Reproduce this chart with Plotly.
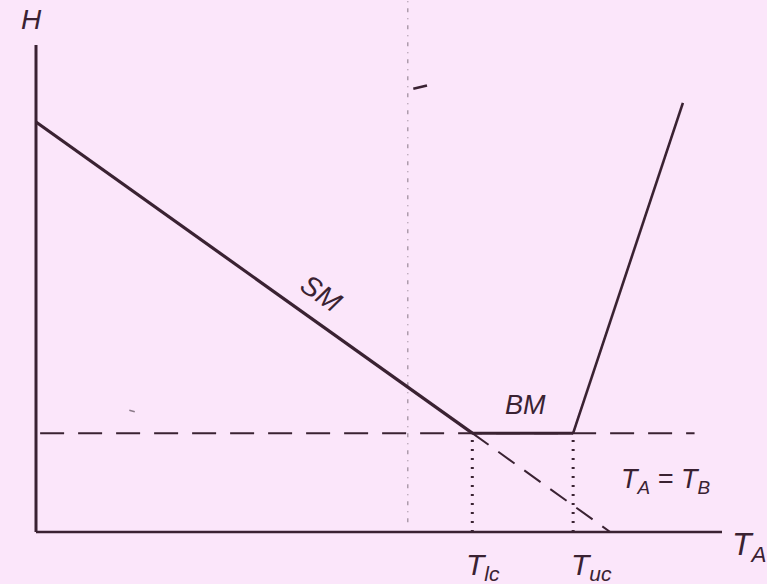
import plotly.graph_objects as go

# ---- data (abstract units: T_A horizontal, H vertical) ----
T_LC = 6.36          # lower critical temperature
T_UC = 7.83          # upper critical temperature
H_BM = 2.03          # enthalpy level of the BM plateau

axis_T = [0, 10]
axis_H = [0, 10]

sm_T = [0, T_LC]
sm_H = [8.42, H_BM]

bm_T = [T_LC, T_UC]
bm_H = [H_BM, H_BM]

rise_T = [T_UC, 9.43]
rise_H = [H_BM, 8.81]

ext_T = [T_LC, 8.37]
ext_H = [H_BM, 0]

level_T = [0.06, 9.6]
level_H = [H_BM, H_BM]

guide_T = [5.42, 5.42]
guide_H = [0.2, 10.92]

# small stray marks of the original print
mark1_T, mark1_H = [5.50, 5.70], [9.10, 9.17]
mark2_T, mark2_H = [1.36, 1.44], [2.50, 2.47]

# ---- styling / layout ----
W, H = 767, 584
L, B = 36, 52
PX_X, PX_Y = 68.6, 48.7
xr = [-L / PX_X, (W - L) / PX_X]
yr = [-B / PX_Y, (H - B) / PX_Y]

INK = "#3a2232"
BG = "#fbe6fa"
FONT = "Liberation Sans Narrow, Liberation Sans, sans-serif"

fig = go.Figure()

def line(x, y, width=3, dash="solid", color=INK):
    fig.add_trace(go.Scatter(x=x, y=y, mode="lines",
                             line=dict(color=color, width=width, dash=dash),
                             hoverinfo="skip", showlegend=False))

# faint vertical dash-dot guide
line(guide_T, guide_H, width=1.2, dash="4px,6px,1px,6px", color="#9a8a98")
line(mark1_T, mark1_H, width=2.5)
line(mark2_T, mark2_H, width=1.5, color="#8a7a88")
# axes
line([0, 0], axis_H, width=3)
line(axis_T, [0, 0], width=2.5)
# dashed level line
line(level_T, level_H, width=2, dash="24px,14px")
# dashed extension of SM
line(ext_T, ext_H, width=2, dash="20px,12px")
# dotted verticals
line([T_LC, T_LC], [0, H_BM], width=3, dash="2px,7px")
line([T_UC, T_UC], [0, H_BM], width=3, dash="2px,7px")
# solid curves
line(sm_T, sm_H, width=3.2)
line(bm_T, bm_H, width=3)
line(rise_T, rise_H, width=2.6)

def label(x, y, text, size=26, angle=0):
    fig.add_annotation(x=x, y=y, text=text, showarrow=False, textangle=angle,
                       font=dict(family=FONT, size=size, color=INK))

label(-0.07, 10.52, "<i>H</i>", 28)
label(4.16, 4.9, "<i>SM</i>", 28, angle=35)
label(7.13, 2.6, "<i>BM</i>", 27)
label(9.18, 1.05, "<i>T<sub>A</sub> = T<sub>B</sub></i>", 27)
label(6.52, -0.7, "<i>T<sub>lc</sub></i>", 30)
label(8.1, -0.7, "<i>T<sub>uc</sub></i>", 30)
label(10.4, -0.3, "<i>T<sub>A</sub></i>", 32)

fig.update_xaxes(range=xr, visible=False, fixedrange=True)
fig.update_yaxes(range=yr, visible=False, fixedrange=True)
fig.update_layout(width=W, height=H, margin=dict(l=0, r=0, t=0, b=0),
                  paper_bgcolor=BG, plot_bgcolor=BG)

fig.write_html(
    "out.html",
    config={"displayModeBar": False},
    post_script="document.body.style.margin='0';document.body.style.background='" + BG + "';",
)
